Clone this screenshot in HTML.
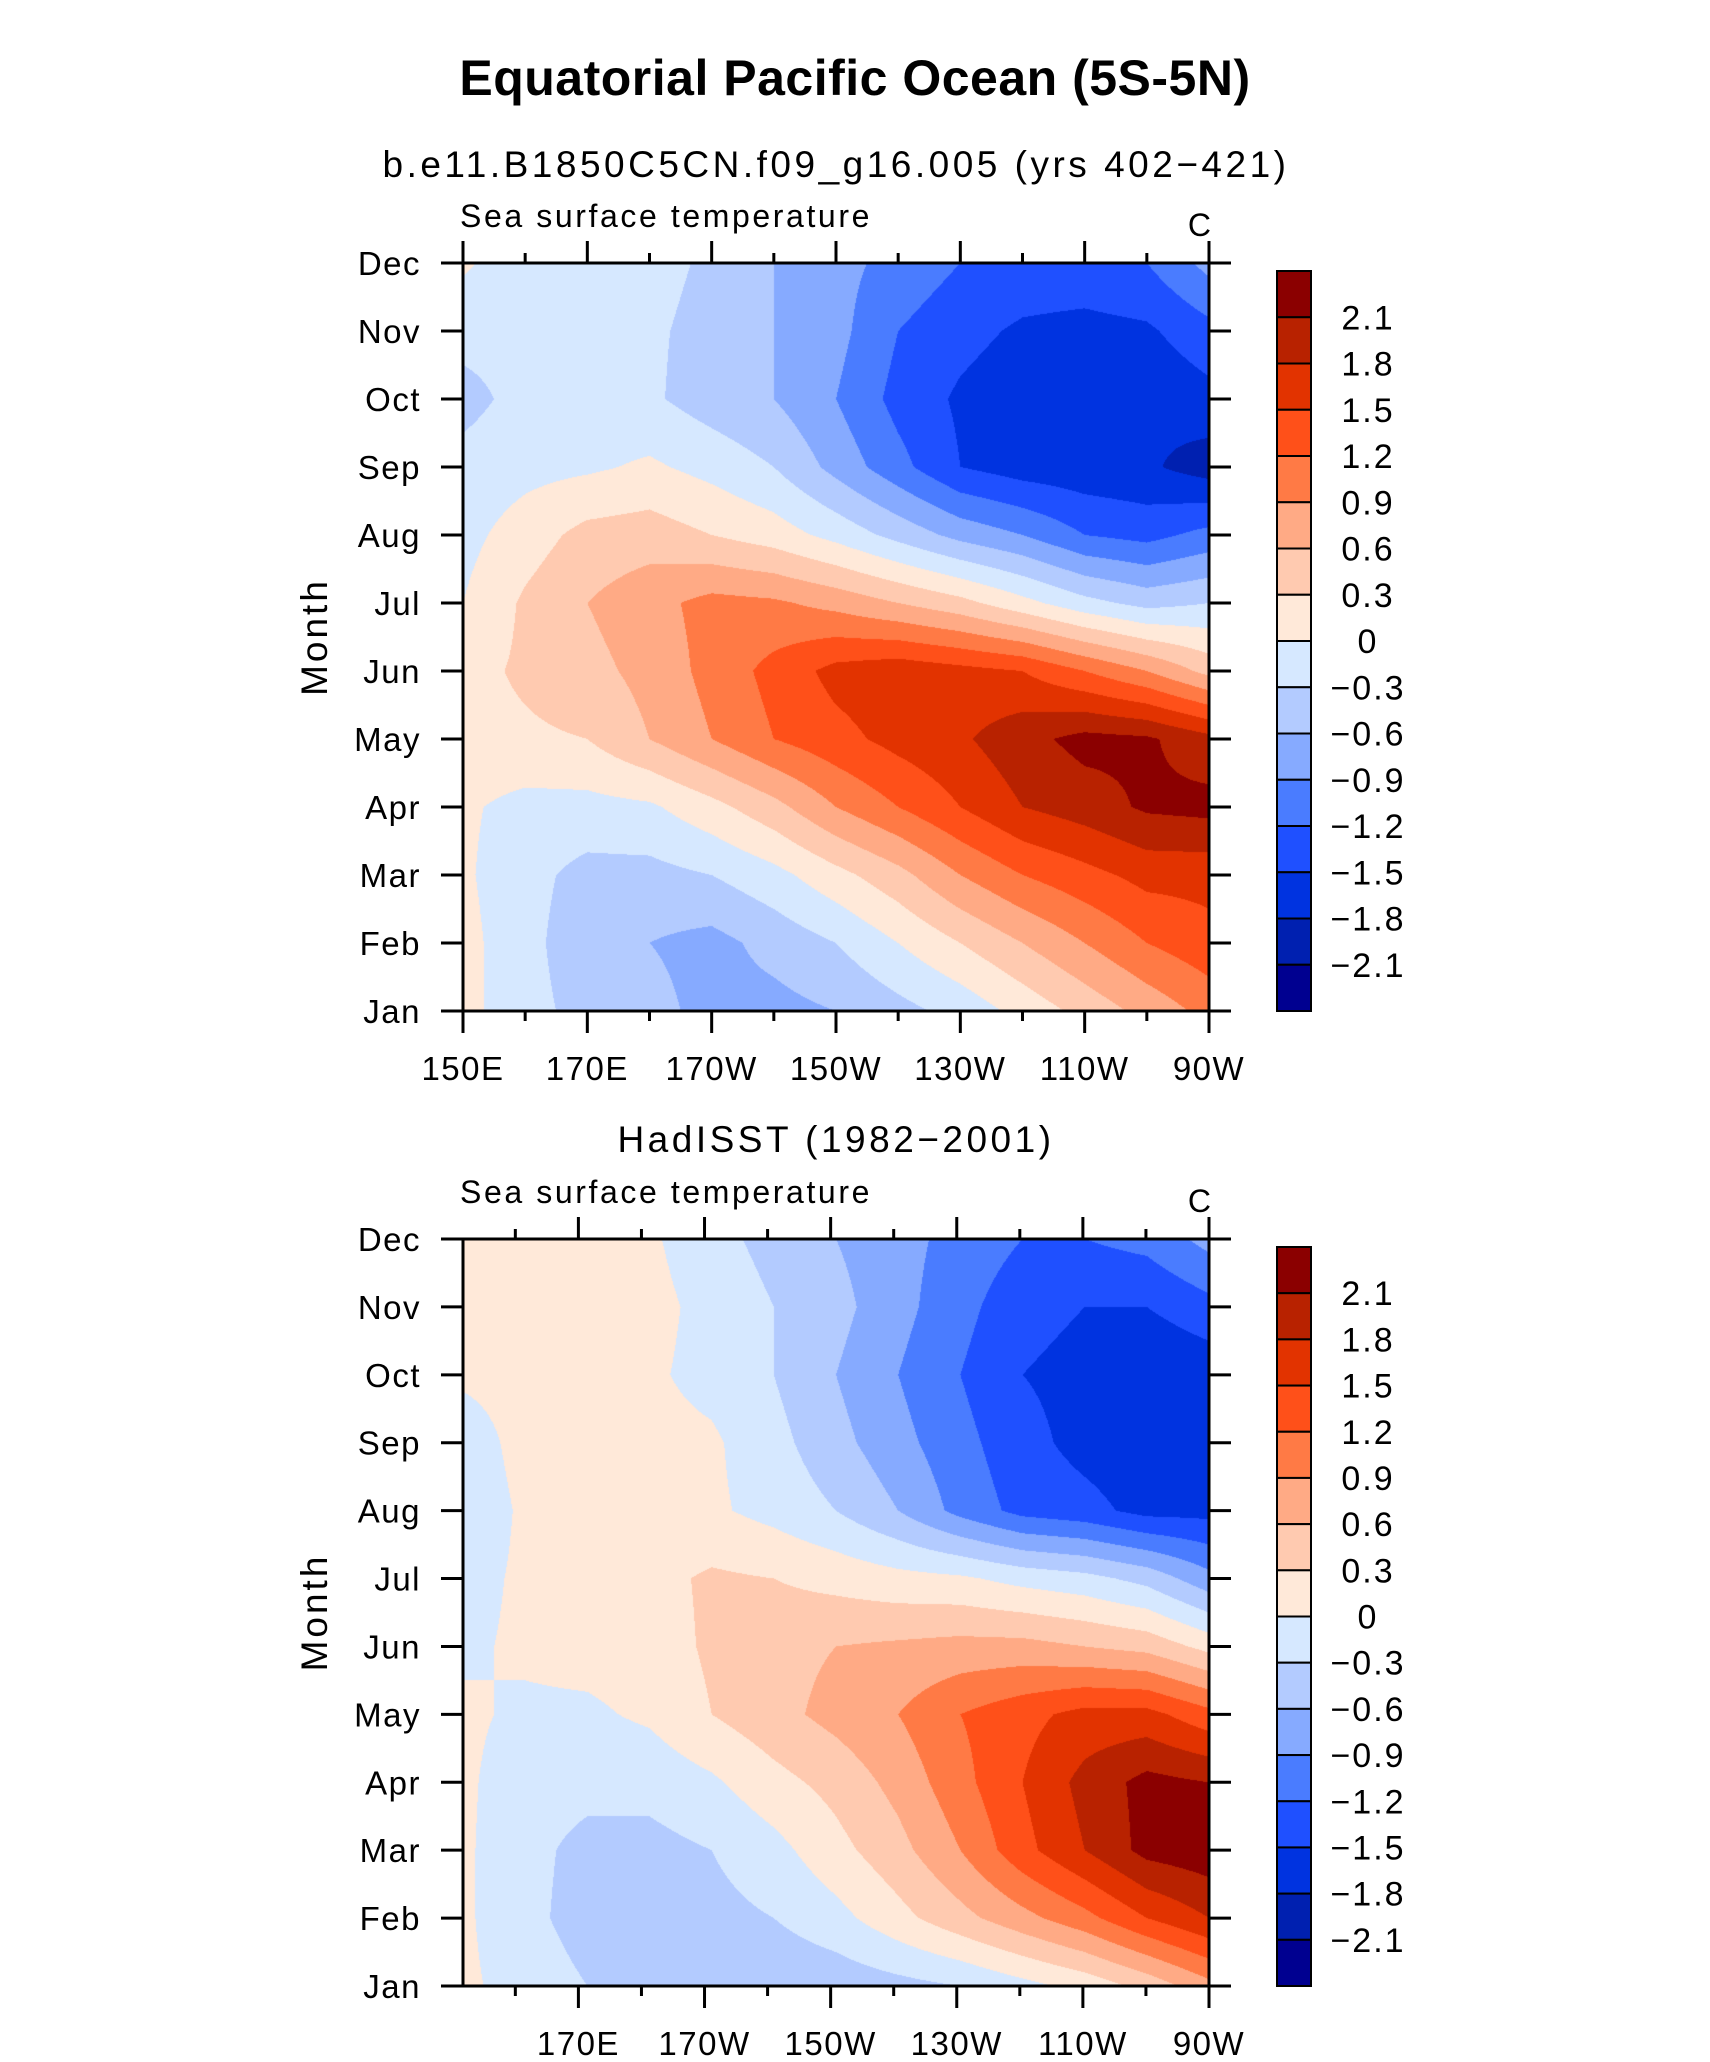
<!DOCTYPE html>
<html><head><meta charset="utf-8">
<style>
html,body{margin:0;padding:0;background:#fff;}
#root{position:relative;width:1710px;height:2062px;overflow:hidden;font-family:"Liberation Sans",sans-serif;}
canvas{position:absolute;}
svg{position:absolute;left:0;top:0;}
</style></head>
<body>
<div id="root">
<canvas id="c1"></canvas>
<canvas id="c2"></canvas>
<svg id="ov" width="1710" height="2062">
<text x="855" y="95" text-anchor="middle" font-size="50" font-weight="bold" letter-spacing="0.5">Equatorial Pacific Ocean (5S-5N)</text>
</svg>
</div>
<script>
const months = ["Jan","Feb","Mar","Apr","May","Jun","Jul","Aug","Sep","Oct","Nov","Dec"];
const levels = [-2.1,-1.8,-1.5,-1.2,-0.9,-0.6,-0.3,0,0.3,0.6,0.9,1.2,1.5,1.8,2.1];
const levelLabels = ["2.1","1.8","1.5","1.2","0.9","0.6","0.3","0","\u22120.3","\u22120.6","\u22120.9","\u22121.2","\u22121.5","\u22121.8","\u22122.1"];
const colors = ["#000090","#0020B0","#0033E0","#1F50FF","#4A7CFF","#86AAFF","#B3CBFF","#D6E8FF","#FFE9D9","#FFCAB0","#FFAA85","#FF7A45","#FF5019","#E23300","#B82200","#8B0000"];
const lons = [150,160,170,180,190,200,210,220,230,240,250,260,270];
// model SST anomaly, rows Jan..Dec
const modelSST = [
[0.1,-0.2,-0.4,-0.5,-0.7,-0.7,-0.6,-0.4,-0.2,0.1,0.4,0.7,1.0],
[0.1,-0.2,-0.5,-0.6,-0.7,-0.5,-0.3,0.0,0.3,0.6,0.9,1.2,1.4],
[0.05,-0.2,-0.4,-0.4,-0.3,-0.1,0.2,0.5,0.9,1.2,1.4,1.6,1.6],
[0.05,-0.1,-0.1,-0.05,0.2,0.5,0.9,1.2,1.5,1.8,1.95,2.15,2.2],
[0.2,0.25,0.3,0.6,0.9,1.2,1.4,1.6,1.75,2.0,2.2,2.15,1.9],
[0.2,0.35,0.5,0.7,1.0,1.3,1.6,1.7,1.6,1.5,1.2,0.9,0.5],
[0.0,0.35,0.6,0.8,1.0,0.95,0.8,0.6,0.4,0.1,-0.2,-0.4,-0.3],
[-0.1,0.15,0.4,0.45,0.3,0.15,-0.1,-0.4,-0.7,-0.9,-1.2,-1.3,-1.1],
[-0.2,-0.1,-0.05,0.05,-0.1,-0.3,-0.7,-1.1,-1.5,-1.65,-1.7,-1.75,-1.95],
[-0.4,-0.2,-0.2,-0.25,-0.45,-0.6,-0.9,-1.3,-1.55,-1.7,-1.75,-1.75,-1.6],
[-0.2,-0.2,-0.2,-0.25,-0.4,-0.6,-0.8,-1.2,-1.4,-1.55,-1.6,-1.55,-1.3],
[0.05,-0.2,-0.2,-0.2,-0.35,-0.6,-0.8,-1.0,-1.2,-1.3,-1.3,-1.2,-0.8]];
// HadISST anomaly, rows Jan..Dec
const obsSST = [
[0.05,-0.1,-0.3,-0.4,-0.5,-0.55,-0.5,-0.4,-0.3,-0.1,0.1,0.4,0.8],
[0.05,-0.2,-0.45,-0.5,-0.4,-0.3,-0.1,0.2,0.5,0.8,1.1,1.5,1.8],
[0.05,-0.2,-0.4,-0.4,-0.3,-0.1,0.2,0.5,0.9,1.4,1.8,2.2,2.3],
[0.05,-0.15,-0.2,-0.2,-0.05,0.2,0.4,0.7,1.1,1.5,1.9,2.2,2.1],
[0.05,-0.05,-0.05,0.05,0.3,0.5,0.7,0.9,1.2,1.4,1.6,1.6,1.3],
[-0.05,0.05,0.1,0.15,0.35,0.5,0.6,0.65,0.7,0.7,0.6,0.5,0.2],
[-0.1,0.05,0.1,0.2,0.35,0.3,0.2,0.1,0.05,-0.1,-0.2,-0.4,-0.8],
[-0.2,0.05,0.1,0.1,0.05,-0.1,-0.3,-0.6,-1.0,-1.3,-1.4,-1.6,-1.6],
[-0.15,0.1,0.3,0.1,0.05,-0.2,-0.5,-0.8,-1.1,-1.4,-1.6,-1.7,-1.8],
[0.05,0.1,0.1,0.05,-0.1,-0.3,-0.6,-0.9,-1.2,-1.5,-1.6,-1.8,-1.7],
[0.05,0.1,0.1,0.1,-0.1,-0.3,-0.5,-0.8,-1.1,-1.4,-1.5,-1.5,-1.3],
[0.1,0.1,0.05,0.05,-0.2,-0.4,-0.6,-0.8,-1.0,-1.2,-1.2,-1.1,-0.8]];
const xTicksTop = [150,170,190,210,230,250,270];
const xTickLabelsTop = ["150E","170E","170W","150W","130W","110W","90W"];
const xTicksBot = [170,190,210,230,250,270];
const xTickLabelsBot = ["170E","170W","150W","130W","110W","90W"];

const NS="http://www.w3.org/2000/svg";
const svg=document.getElementById('ov');
function mk(tag,attrs,parent){const e=document.createElementNS(NS,tag);for(const k in attrs)e.setAttribute(k,attrs[k]);(parent||svg).appendChild(e);return e;}
function hex(c){return [parseInt(c.slice(1,3),16),parseInt(c.slice(3,5),16),parseInt(c.slice(5,7),16)];}
const rgb=colors.map(hex);
function levelIndex(v){let i=0;while(i<levels.length&&v>=levels[i])i++;return i;}

function panel(cfg){
  const {x0,y0,w,h,lonMin,lonMax,data,canvasId,xticks,xlabels,subtitle,subY,name}=cfg;
  const xs=lon=>x0+(lon-lonMin)/(lonMax-lonMin)*w;
  const ys=m=>y0+h-(m/11)*h;
  const cv=document.getElementById(canvasId);
  cv.width=w;cv.height=h;cv.style.left=x0+'px';cv.style.top=y0+'px';
  const ctx=cv.getContext('2d');const img=ctx.createImageData(w,h);
  const nc=lons.length;
  for(let py=0;py<h;py++){
    const m=(h-py-0.5)/h*11;let r=Math.min(10,Math.floor(m));const fy=m-r;
    for(let px=0;px<w;px++){
      const c=(px+0.5)/w*(nc-1);let j=Math.min(nc-2,Math.floor(c));const fx=c-j;
      const v=(data[r][j]*(1-fx)+data[r][j+1]*fx)*(1-fy)+(data[r+1][j]*(1-fx)+data[r+1][j+1]*fx)*fy;
      const col=rgb[levelIndex(v)];const k=(py*w+px)*4;
      img.data[k]=col[0];img.data[k+1]=col[1];img.data[k+2]=col[2];img.data[k+3]=255;
    }
  }
  ctx.putImageData(img,0,0);
  const g=mk('g',{});
  
  
  const t1=mk('text',{x:836,y:subY,'text-anchor':'middle','font-size':37,'letter-spacing':'3.5'},g);t1.textContent=subtitle;
  
  const t2=mk('text',{x:x0-3,y:y0-36,'font-size':32,'letter-spacing':'2.6'},g);t2.textContent='Sea surface temperature';
  
  const t3=mk('text',{x:x0+w+2,y:y0-27,'text-anchor':'end','font-size':32},g);t3.textContent='C';
  
  const fr=mk('rect',{x:x0,y:y0,width:w,height:h,fill:'none',stroke:'#000','stroke-width':3},g);
  
  for(let lon=Math.ceil(lonMin/10)*10;lon<=lonMax;lon+=10){
    const major=xticks.includes(lon);const L=major?22:10;const x=xs(lon);
    mk('line',{x1:x,x2:x,y1:y0,y2:y0-L,stroke:'#000','stroke-width':3},g);
    mk('line',{x1:x,x2:x,y1:y0+h,y2:y0+h+L,stroke:'#000','stroke-width':3},g);
  }
  xticks.forEach((lon,i)=>{const t=mk('text',{x:xs(lon),y:y0+h+69,'text-anchor':'middle','font-size':33,'letter-spacing':'1.5'},g);t.textContent=xlabels[i];
    });
  months.forEach((mo,i)=>{const y=ys(i);
    mk('line',{x1:x0,x2:x0-22,y1:y,y2:y,stroke:'#000','stroke-width':3},g);
    mk('line',{x1:x0+w,x2:x0+w+22,y1:y,y2:y,stroke:'#000','stroke-width':3},g);
    const t=mk('text',{x:x0-42,y:y+12,'text-anchor':'end','font-size':33,'letter-spacing':'1.5'},g);t.textContent=mo;
    });
  const yt=mk('text',{x:0,y:0,'text-anchor':'middle','font-size':37,'letter-spacing':'3',transform:`translate(${x0-136},${y0+h/2}) rotate(-90)`},g);yt.textContent='Month';
  
  const cbx=1277,cbw=34,cby=y0+8,cbh=h-8;const bh=cbh/colors.length;
  for(let i=0;i<colors.length;i++){
    const r=mk('rect',{x:cbx,y:cby+i*bh,width:cbw,height:bh,fill:colors[colors.length-1-i],stroke:'#000','stroke-width':2},g);
    
  }
  levelLabels.forEach((lb,i)=>{const t=mk('text',{x:1368,y:cby+(i+1)*bh+12,'text-anchor':'middle','font-size':34,'letter-spacing':'2'},g);t.textContent=lb;
    });
}
panel({x0:463,y0:263,w:746,h:748,lonMin:150,lonMax:270,data:modelSST,canvasId:'c1',xticks:xTicksTop,xlabels:xTickLabelsTop,subtitle:'b.e11.B1850C5CN.f09_g16.005 (yrs 402\u2212421)',subY:177,name:'model-panel'});
panel({x0:463,y0:1239,w:746,h:747,lonMin:151.7,lonMax:270,data:obsSST,canvasId:'c2',xticks:xTicksBot,xlabels:xTickLabelsBot,subtitle:'HadISST (1982\u22122001)',subY:1152,name:'hadisst-panel'});
</script>
</body></html>
